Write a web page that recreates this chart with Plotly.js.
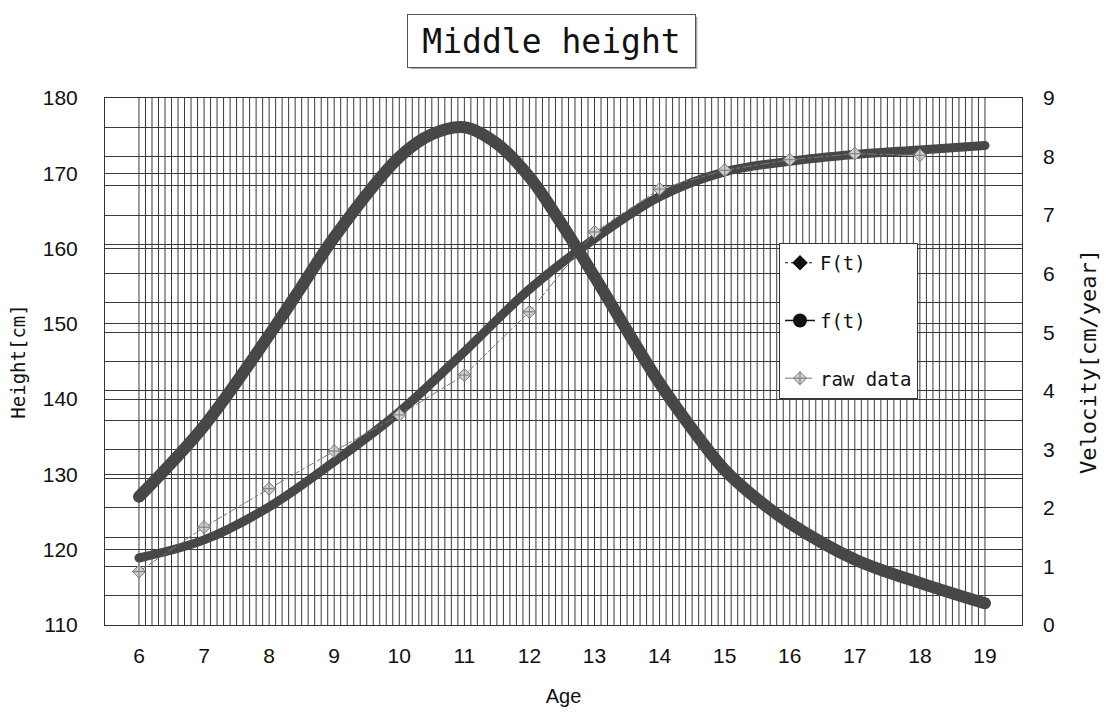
<!DOCTYPE html>
<html>
<head>
<meta charset="utf-8">
<script src="https://cdn.plot.ly/plotly-3.0.1.min.js"></script>
<style>
html,body{margin:0;padding:0;background:#fff;}
#chart{width:1106px;height:712px;}
.scatterlayer .trace path.js-line{stroke-linecap:round;}
</style>
</head>
<body>
<div id="chart"></div>
<script>
// ---- data ----
var ages = [6, 7, 8, 9, 10, 11, 12, 13, 14, 15, 16, 17, 18, 19];
var heightF = [118.9, 121.3, 125.7, 131.7, 138.3, 146.3, 154.6, 161.3, 166.9, 170.2, 171.6, 172.5, 173.1, 173.7];

var velAges = [6, 7, 8, 8.5, 9, 10, 10.5, 11, 11.5, 12, 12.5, 13, 14, 14.5, 15, 15.5, 16, 17, 18, 19];
var velocityF = [2.19, 3.40, 4.95, 5.78, 6.62, 7.99, 8.38, 8.50, 8.22, 7.65, 6.84, 5.95, 4.13, 3.35, 2.65, 2.15, 1.74, 1.12, 0.72, 0.37];

var rawAges = [6, 7, 8, 9, 10, 11, 12, 13, 14, 15, 16, 17, 18];
var rawHeight = [117.1, 123.0, 128.1, 133.1, 137.9, 143.2, 151.6, 162.2, 167.9, 170.4, 171.8, 172.6, 172.4];

var xTicks = [6, 7, 8, 9, 10, 11, 12, 13, 14, 15, 16, 17, 18, 19];
var leftTicks = [110, 120, 130, 140, 150, 160, 170, 180];
var rightTicks = [0, 1, 2, 3, 4, 5, 6, 7, 8, 9];

var curveColor = '#474747';
var gridColor = '#3a3a3a';
var mono = 'DejaVu Sans Mono, monospace';
var sans = 'Liberation Sans, Arial, sans-serif';

var traces = [
  { x: ages, y: heightF, type: 'scatter', mode: 'lines', yaxis: 'y',
    line: { color: curveColor, width: 9, shape: 'spline', smoothing: 1 }, showlegend: false, legendgroup: 'F', hoverinfo: 'x+y' },
  { x: velAges, y: velocityF, type: 'scatter', mode: 'lines', yaxis: 'y2',
    line: { color: curveColor, width: 12, shape: 'spline', smoothing: 1 }, showlegend: false, legendgroup: 'f', hoverinfo: 'x+y' },
  { x: rawAges, y: rawHeight, type: 'scatter', mode: 'lines+markers', yaxis: 'y', name: 'raw data', legendgroup: 'r',
    line: { color: '#777', width: 1, dash: 'dashdot' },
    marker: { symbol: 'diamond-cross', size: 10, color: '#d0d0d0', line: { color: '#777', width: 1 } } },
  // legend samples
  { x: [null], y: [null], type: 'scatter', mode: 'lines+markers', name: 'F(t)', legendgroup: 'F',
    line: { color: '#111', width: 1, dash: 'dot' }, marker: { symbol: 'diamond', size: 12, color: '#111' } },
  { x: [null], y: [null], type: 'scatter', mode: 'lines+markers', name: 'f(t)', legendgroup: 'f',
    line: { color: '#111', width: 1.5 }, marker: { symbol: 'circle', size: 14, color: '#111' } }
];
traces[3].legendrank = 1; traces[4].legendrank = 2; traces[2].legendrank = 3;

// vertical grid every 0.1 year from 6 to 19
var shapes = [];
for (var i = 0; i <= 130; i++) {
  var xv = 6 + i / 10;
  shapes.push({ type: 'line', xref: 'x', yref: 'paper', x0: xv, x1: xv, y0: 0, y1: 1,
    line: { color: gridColor, width: 1 }, layer: 'below' });
}
// title box shadow
shapes.push({ type: 'rect', xref: 'paper', yref: 'paper', x0: 0.3330, x1: 0.6460, y0: 1.0550, y1: 1.1540,
  fillcolor: '#aaa', line: { width: 0 } });

var layout = {
  width: 1106, height: 712,
  margin: { l: 105, r: 84, t: 98, b: 87 },
  paper_bgcolor: '#fff', plot_bgcolor: '#fff',
  showlegend: true,
  xaxis: {
    range: [5.478, 19.569], tickvals: xTicks, ticktext: xTicks.map(String),
    showgrid: false, zeroline: false, showline: true, mirror: true, linecolor: '#333', linewidth: 1,
    ticks: '', ticklabelstandoff: 12,
    tickfont: { family: sans, size: 21, color: '#111' },
    title: { text: 'Age', font: { family: sans, size: 20, color: '#111' }, standoff: 22 }
  },
  yaxis: {
    range: [110, 180], tickvals: leftTicks, ticktext: leftTicks.map(String),
    showgrid: true, gridcolor: gridColor, gridwidth: 1, zeroline: false,
    showline: true, mirror: true, linecolor: '#333', linewidth: 1,
    ticks: '', ticklabelstandoff: 22,
    tickfont: { family: sans, size: 21, color: '#111' },
    title: { text: 'Height[cm]', font: { family: mono, size: 19, color: '#111' }, standoff: 12 }
  },
  yaxis2: {
    range: [0, 9], tickvals: rightTicks, ticktext: rightTicks.map(String),
    overlaying: 'y', side: 'right',
    showgrid: true, gridcolor: gridColor, gridwidth: 1, zeroline: false,
    minor: { dtick: 0.5, tick0: 0, showgrid: true, gridcolor: gridColor, gridwidth: 1, ticks: '' },
    showline: false, ticks: '', ticklabelstandoff: 20,
    tickfont: { family: sans, size: 21, color: '#111' },
    title: { text: 'Velocity[cm/year]', font: { family: mono, size: 22, color: '#111' }, standoff: 26 }
  },
  legend: {
    x: 0.735, y: 0.725, xanchor: 'left', yanchor: 'top',
    bgcolor: '#fff', bordercolor: '#333', borderwidth: 1,
    font: { family: mono, size: 19, color: '#111' },
    traceorder: 'grouped', tracegroupgap: 30, itemwidth: 30
  },
  shapes: shapes,
  annotations: [{
    text: 'Middle height', xref: 'paper', yref: 'paper', x: 0.487, y: 1.108,
    xanchor: 'center', yanchor: 'middle', showarrow: false,
    font: { family: mono, size: 33, color: '#111' },
    bgcolor: '#fff', bordercolor: '#555', borderwidth: 1, borderpad: 4,
    width: 279, height: 44
  }]
};

Plotly.newPlot('chart', traces, layout, { staticPlot: true });
</script>
</body>
</html>
